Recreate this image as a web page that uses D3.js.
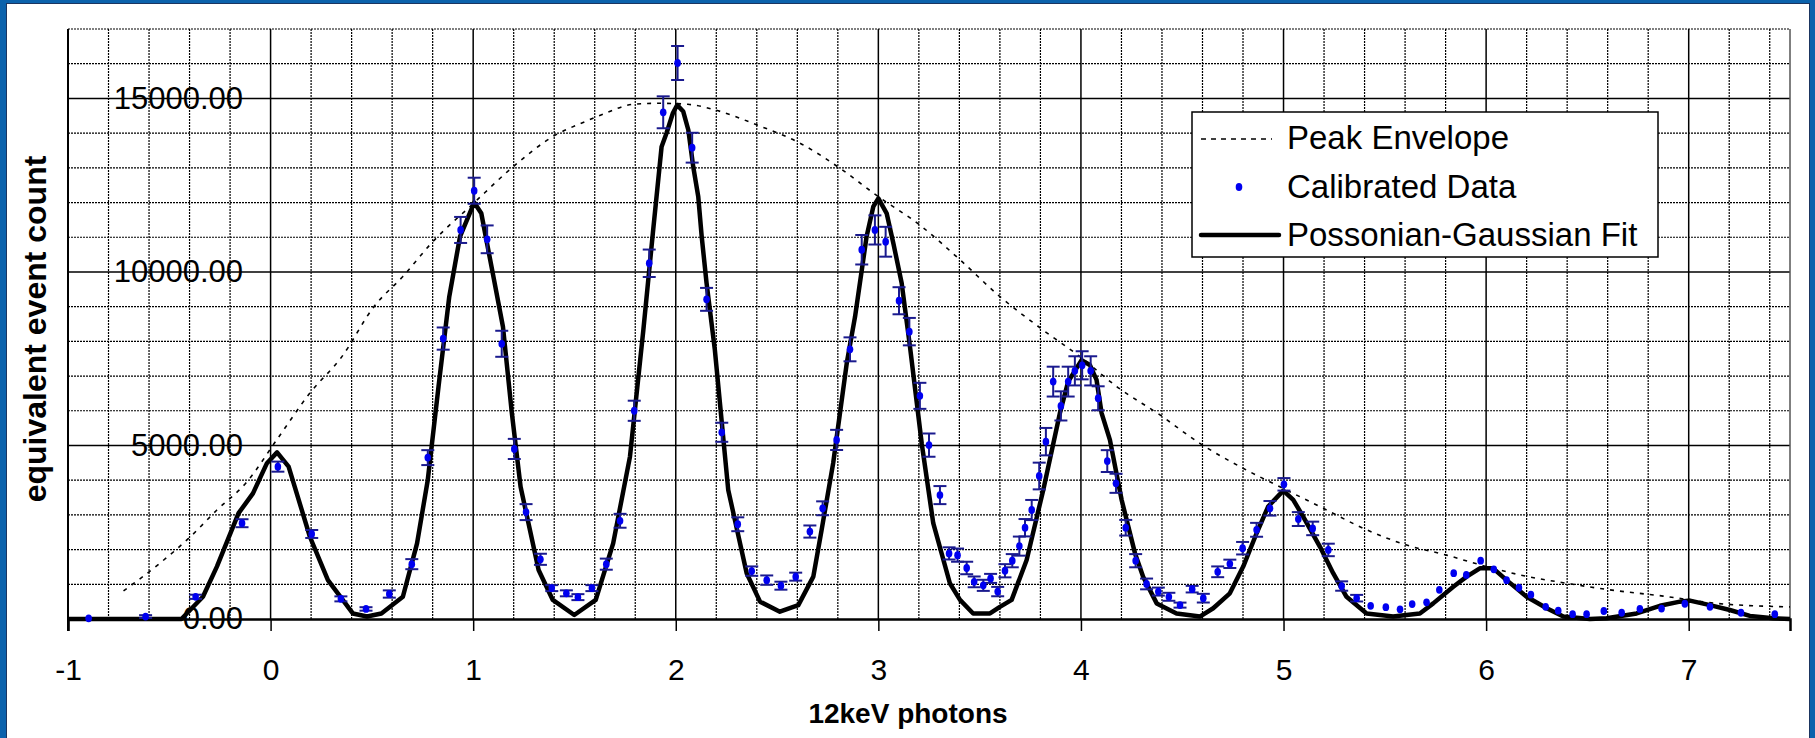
<!DOCTYPE html>
<html>
<head>
<meta charset="utf-8">
<script src="https://cdn.jsdelivr.net/npm/d3@7"></script>
<style>
  body { margin: 0; background: #fff; }
  text { font-family: "Liberation Sans", Arial, sans-serif; }
</style>
</head>
<body>
<script>
// axis labels
const xTicks = [-1, 0, 1, 2, 3, 4, 5, 6, 7]
const xTickLabels = ["-1", "0", "1", "2", "3", "4", "5", "6", "7"]
const yTicks = [0, 5000, 10000, 15000]
const yTickLabels = ["0.00", "5000.00", "10000.00", "15000.00"]

// peak envelope (dashed)
const envX = [-0.726, -0.546, -0.396, -0.265, -0.123, 0.036, 0.194, 0.352, 0.510, 0.653, 0.794, 1.004, 1.199, 1.393, 1.552,
    1.651, 1.790, 1.920, 2.060, 2.193, 2.399, 2.613, 2.810, 3.000, 3.205, 3.403, 3.600, 3.812, 3.995, 4.176,
    4.390, 4.587, 4.785, 4.982, 5.196, 5.410, 5.608, 5.805, 5.990, 6.167, 6.397, 6.611, 6.874, 7.138, 7.500]
const envY = [810, 1610, 2370, 3140, 3910, 5210, 6510, 7560, 9000, 9870, 10830, 11990, 13040, 13900, 14330,
    14570, 14830, 14860, 14830, 14670, 14240, 13710, 12990, 12170, 11350, 10350, 9290, 8330, 7560, 6700,
    5880, 5060, 4390, 3810, 3190, 2570, 2130, 1840, 1530, 1270, 1030, 840, 660, 450, 350]

// calibrated data with error bars
const dataX = [-0.898, -0.617, -0.370, -0.141, 0.036, 0.203, 0.347, 0.471, 0.586, 0.697, 0.776, 0.852, 0.938, 1.005, 1.069,
    1.141, 1.203, 1.261, 1.332, 1.388, 1.460, 1.517, 1.586, 1.657, 1.725, 1.795, 1.869, 1.938, 2.009, 2.081,
    2.152, 2.227, 2.306, 2.375, 2.449, 2.519, 2.592, 2.662, 2.725, 2.794, 2.860, 2.918, 2.983, 3.036, 3.102,
    3.153, 3.205, 3.250, 3.304, 3.349, 3.391, 3.436, 3.473, 3.518, 3.554, 3.589, 3.625, 3.661, 3.696, 3.724,
    3.757, 3.794, 3.827, 3.863, 3.901, 3.937, 3.970, 4.006, 4.048, 4.085, 4.130, 4.173, 4.221, 4.270, 4.324,
    4.382, 4.434, 4.489, 4.549, 4.604, 4.675, 4.735, 4.798, 4.867, 4.933, 5.002, 5.073, 5.144, 5.221, 5.287,
    5.361, 5.430, 5.505, 5.575, 5.635, 5.706, 5.769, 5.840, 5.902, 5.973, 6.038, 6.101, 6.162, 6.221, 6.294,
    6.356, 6.427, 6.496, 6.581, 6.669, 6.759, 6.866, 6.981, 7.105, 7.258, 7.425]
const dataY = [20, 70, 640, 2760, 4390, 2450, 580, 290, 720, 1580, 4650, 8080, 11210, 12340, 10940,
    7930, 4900, 3080, 1720, 890, 740, 630, 890, 1580, 2830, 6000, 10250, 14600, 16020, 13580,
    9210, 5380, 2730, 1380, 1120, 960, 1220, 2520, 3190, 5160, 7770, 10640, 11210, 10870, 9170,
    8280, 6430, 5010, 3570, 1890, 1840, 1470, 1070, 970, 1170, 790, 1390, 1680, 2100, 2630,
    3140, 4120, 5110, 6840, 6140, 6840, 7150, 7310, 7150, 6360, 4550, 3910, 2630, 1680, 1010,
    790, 640, 400, 860, 600, 1360, 1590, 2040, 2570, 3190, 3880, 2880, 2610, 1990, 950,
    600, 380, 340, 280, 430, 480, 840, 1320, 1270, 1680, 1430, 1120, 900, 700, 350,
    240, 140, 140, 230, 180, 290, 300, 440, 350, 180, 140]
const dataErr = [0, 40, 60, 115, 145, 115, 72, 50, 105, 145, 215, 320, 375, 375, 400,
    375, 290, 230, 160, 86, 86, 86, 86, 160, 200, 290, 395, 460, 490, 430,
    330, 275, 200, 135, 135, 115, 115, 175, 200, 290, 345, 425, 420, 430, 390,
    395, 375, 335, 260, 175, 190, 180, 155, 160, 130, 135, 190, 190, 275, 250,
    290, 385, 395, 430, 420, 430, 420, 405, 420, 345, 315, 275, 225, 190, 155,
    115, 115, 72, 95, 125, 155, 120, 180, 200, 210, 180, 200, 195, 180, 135,
    95, 0, 0, 0, 0, 0, 0, 0, 0, 0, 0, 0, 0, 0, 0,
    0, 0, 0, 0, 0, 0, 0, 0, 0, 0, 0]

// possonian-gaussian fit
const fitX = [-1, -0.440, -0.334, -0.265, -0.158, -0.087, -0.018, 0.032, 0.089, 0.194, 0.283, 0.406, 0.476, 0.547, 0.653,
    0.723, 0.776, 0.829, 0.882, 0.935, 1.005, 1.040, 1.103, 1.147, 1.191, 1.234, 1.323, 1.393, 1.499, 1.605,
    1.691, 1.774, 1.840, 1.887, 1.930, 1.955, 1.986, 2.007, 2.037, 2.062, 2.086, 2.111, 2.128, 2.152, 2.193,
    2.259, 2.350, 2.416, 2.514, 2.605, 2.679, 2.720, 2.777, 2.844, 2.885, 2.942, 2.975, 3.000, 3.041, 3.074,
    3.115, 3.156, 3.214, 3.271, 3.353, 3.403, 3.468, 3.551, 3.600, 3.658, 3.732, 3.814, 3.896, 3.937, 4.003,
    4.044, 4.077, 4.102, 4.143, 4.201, 4.267, 4.307, 4.374, 4.472, 4.587, 4.653, 4.735, 4.801, 4.867, 4.924,
    4.999, 5.048, 5.097, 5.180, 5.245, 5.311, 5.410, 5.541, 5.673, 5.739, 5.838, 5.904, 5.969, 6.035, 6.101,
    6.200, 6.299, 6.381, 6.512, 6.595, 6.743, 6.858, 6.957, 7.006, 7.105, 7.203, 7.302, 7.417, 7.500]
const fitY = [0, 0, 640, 1510, 3050, 3620, 4490, 4800, 4390, 2370, 1120, 160, 70, 160, 640,
    2180, 4010, 6700, 9290, 11020, 12000, 11690, 9770, 8420, 5930, 3810, 1410, 550, 115, 550,
    2180, 4680, 8330, 11120, 13610, 14010, 14580, 14810, 14620, 14090, 13040, 12170, 11020, 9680, 7750,
    3720, 1320, 500, 210, 400, 1220, 2570, 4490, 7370, 8710, 11020, 11880, 12120, 11690, 10830,
    9680, 7850, 5060, 2760, 1030, 550, 160, 160, 350, 550, 1700, 3720, 5930, 6840, 7460,
    7320, 6890, 5930, 5160, 3430, 1890, 1220, 450, 160, 70, 310, 740, 1510, 2470, 3240,
    3700, 3430, 2950, 2080, 1320, 640, 160, 70, 160, 450, 930, 1220, 1460, 1460, 1120,
    640, 310, 70, 0, 20, 160, 380, 500, 530, 400, 260, 90, 20, 0]

const legendNames = ["Peak Envelope", "Calibrated Data", "Possonian-Gaussian Fit"]

const W = 1815, H = 738
const svg = d3.select("body").append("svg").attr("width", W).attr("height", H)

// frame
svg.append("rect").attr("width", W).attr("height", H).attr("fill", "#0b62ac")
svg.append("rect").attr("x", 6.5).attr("y", 3.5).attr("width", 1803).attr("height", 740)
    .attr("fill", "#fff").attr("stroke", "#1b3560").attr("stroke-width", 1)

const x = d3.scaleLinear().domain([-1, 7.5]).range([68, 1790])
const y = d3.scaleLinear().domain([0, 17000]).range([619, 29])

// grid
const grid = svg.append("g")
const vLines = d3.range(0, 43).map(i => -1 + i * 0.2)
grid.selectAll("line.v").data(vLines).enter().append("line")
    .attr("x1", d => x(d)).attr("x2", d => x(d))
    .attr("y1", y(17000)).attr("y2", y(0))
    .attr("stroke", "#000")
    .attr("stroke-width", d => Math.abs(d - Math.round(d)) < 1e-6 ? 1.5 : 1.2)
    .attr("stroke-dasharray", d => Math.abs(d - Math.round(d)) < 1e-6 ? null : "2,1")
const hLines = d3.range(1, 18).map(i => i * 1000)
grid.selectAll("line.h").data(hLines).enter().append("line")
    .attr("x1", x(-1)).attr("x2", x(7.5))
    .attr("y1", d => y(d)).attr("y2", d => y(d))
    .attr("stroke", "#000")
    .attr("stroke-width", d => d % 5000 === 0 ? 1.5 : 1.2)
    .attr("stroke-dasharray", d => d % 5000 === 0 ? null : "2,1")
// right border
grid.append("line").attr("x1", x(7.5)).attr("x2", x(7.5)).attr("y1", y(17000)).attr("y2", y(0))
    .attr("stroke", "#555").attr("stroke-width", 1.5)

// x axis
const xAxis = svg.append("g").attr("transform", `translate(0,${y(0)})`)
    .call(d3.axisBottom(x).tickValues(xTicks).tickSize(12).tickPadding(28)
        .tickFormat((d, i) => xTickLabels[i]))
xAxis.select(".domain").attr("stroke", "#000").attr("stroke-width", 2.5)
xAxis.selectAll(".tick line").attr("stroke", "#000").attr("stroke-width", 1.5)
xAxis.selectAll(".tick text").attr("font-size", 30).attr("fill", "#000")
    .style("font-family", "'Liberation Sans', Arial, sans-serif")

// y axis line
svg.append("line").attr("x1", x(-1)).attr("x2", x(-1)).attr("y1", y(17000)).attr("y2", y(0) + 12)
    .attr("stroke", "#000").attr("stroke-width", 2)

// y tick labels sit inside the plot
const yAxis = svg.append("g").attr("transform", "translate(243,0)")
    .call(d3.axisLeft(y).tickValues(yTicks).tickSize(0).tickPadding(0)
        .tickFormat((d, i) => yTickLabels[i]))
yAxis.select(".domain").remove()
yAxis.selectAll(".tick text").attr("font-size", 31).attr("fill", "#000")
    .style("font-family", "'Liberation Sans', Arial, sans-serif")

// axis titles
svg.append("text").attr("x", 908).attr("y", 723).attr("text-anchor", "middle")
    .attr("font-size", 28).attr("font-weight", "bold").text("12keV photons")
svg.append("text").attr("transform", "translate(46,329) rotate(-90)").attr("text-anchor", "middle")
    .attr("font-size", 32).attr("font-weight", "bold").text("equivalent event count")

// peak envelope
const envLine = d3.line().x(d => x(d[0])).y(d => y(d[1])).curve(d3.curveMonotoneX)
svg.append("path").datum(envX.map((v, i) => [v, envY[i]]))
    .attr("d", envLine).attr("fill", "none").attr("stroke", "#000")
    .attr("stroke-width", 1.6).attr("stroke-dasharray", "4,6")

// fit
const fitLine = d3.line().x(d => x(d[0])).y(d => y(d[1]))
svg.append("path").datum(fitX.map((v, i) => [v, fitY[i]]))
    .attr("d", fitLine).attr("fill", "none").attr("stroke", "#000")
    .attr("stroke-width", 4.5).attr("stroke-linejoin", "round")

// error bars and points
const pts = dataX.map((v, i) => ({x: v, y: dataY[i], e: dataErr[i]}))
const bars = svg.append("g").attr("stroke", "#1a1a8e").attr("stroke-width", 2)
pts.filter(d => d.e > 0).forEach(d => {
    const cx = x(d.x)
    bars.append("line").attr("x1", cx).attr("x2", cx).attr("y1", y(d.y - d.e)).attr("y2", y(d.y + d.e))
    bars.append("line").attr("x1", cx - 6.5).attr("x2", cx + 6.5).attr("y1", y(d.y - d.e)).attr("y2", y(d.y - d.e))
    bars.append("line").attr("x1", cx - 6.5).attr("x2", cx + 6.5).attr("y1", y(d.y + d.e)).attr("y2", y(d.y + d.e))
})
svg.append("g").selectAll("ellipse").data(pts).enter().append("ellipse")
    .attr("cx", d => x(d.x)).attr("cy", d => y(d.y))
    .attr("rx", 3.3).attr("ry", 3.9).attr("fill", "#0000f0")

// legend
const lg = svg.append("g")
lg.append("rect").attr("x", 1192).attr("y", 112).attr("width", 466).attr("height", 145)
    .attr("fill", "#fff").attr("stroke", "#000").attr("stroke-width", 1.5)
lg.append("line").attr("x1", 1201).attr("x2", 1272).attr("y1", 139).attr("y2", 139)
    .attr("stroke", "#000").attr("stroke-width", 1.6).attr("stroke-dasharray", "5,5")
lg.append("ellipse").attr("cx", 1239).attr("cy", 187).attr("rx", 3.3).attr("ry", 3.9).attr("fill", "#0000f0")
lg.append("line").attr("x1", 1201).attr("x2", 1279).attr("y1", 235).attr("y2", 235)
    .attr("stroke", "#000").attr("stroke-width", 4.5).attr("stroke-linecap", "round")
lg.selectAll("text").data(legendNames).enter().append("text")
    .attr("x", 1287).attr("y", (d, i) => 149 + i * 48.5)
    .attr("font-size", 33).attr("fill", "#000").text(d => d)
</script>
</body>
</html>
